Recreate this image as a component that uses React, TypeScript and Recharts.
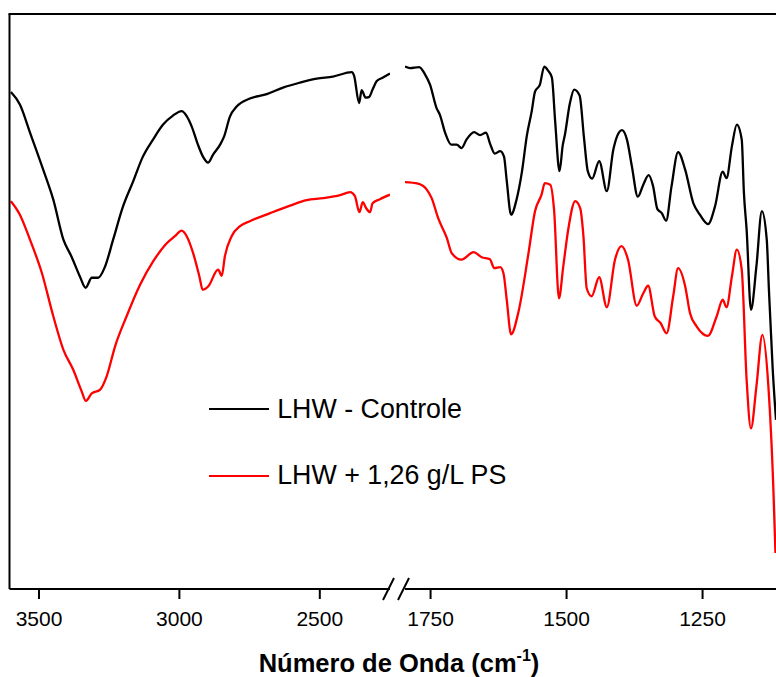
import React from 'react';
import { LineChart, Line, XAxis, YAxis, Legend } from 'recharts';

// FTIR spectra, broken wavenumber axis (3600-2250 | 1800-1115 cm-1)
// transmittance in arbitrary units (no y scale shown on the figure)

const ctrlLeftWn = [3600, 3568, 3532, 3485, 3449, 3413, 3384, 3354, 3334, 3312, 3289, 3265, 3236, 3201, 3165, 3130, 3094, 3058, 3023, 2992, 2974, 2956, 2934, 2916, 2898, 2880, 2855, 2841, 2820, 2796, 2749, 2689, 2631, 2570, 2511, 2453, 2386, 2378, 2360, 2351, 2337, 2325, 2312, 2297, 2275, 2250];
const ctrlLeftT = [99.3, 96.8, 91.2, 83.8, 77.8, 69.8, 66.4, 62.4, 60.2, 62.2, 62.2, 64.4, 69.8, 76.4, 81.4, 86.4, 89.8, 92.8, 94.6, 95.5, 94.5, 92.4, 88.8, 86.4, 85.2, 86.8, 88.8, 90.4, 94.4, 96.4, 98.0, 98.9, 100.2, 101.2, 102.0, 102.4, 103.3, 102.6, 97.1, 99.7, 98.2, 98.3, 99.8, 101.5, 102.2, 103.0];

const psLeftWn = [3600, 3568, 3532, 3490, 3449, 3413, 3378, 3348, 3333, 3312, 3283, 3259, 3229, 3188, 3140, 3093, 3045, 3016, 2992, 2974, 2951, 2929, 2917, 2897, 2862, 2849, 2838, 2814, 2784, 2749, 2677, 2606, 2547, 2488, 2428, 2392, 2375, 2359, 2347, 2335, 2321, 2312, 2286, 2250];
const psLeftT = [77.5, 74.8, 69.8, 63.2, 54.5, 47.8, 43.8, 39.5, 37.6, 39.1, 39.8, 42.5, 48.5, 54.5, 60.8, 65.5, 69.1, 70.5, 71.6, 70.5, 67.1, 62.5, 59.8, 60.5, 63.8, 62.6, 66.5, 70.5, 72.5, 73.5, 75.1, 76.6, 77.7, 78.1, 78.7, 79.3, 78.5, 75.3, 77.3, 76.1, 75.3, 77.1, 77.9, 78.8];

const ctrlRightWn = [1797, 1788, 1771, 1760, 1751, 1739, 1733, 1723, 1712, 1702, 1693, 1684, 1670, 1659, 1648, 1641, 1632, 1622, 1615, 1610, 1602, 1592, 1582, 1573, 1564, 1558, 1549, 1541, 1534, 1527, 1521, 1513, 1507, 1503, 1494, 1486, 1476, 1468, 1461, 1453, 1440, 1426, 1414, 1407, 1398, 1389, 1380, 1369, 1359, 1349, 1341, 1333, 1325, 1317, 1307, 1295, 1282, 1267, 1255, 1240, 1227, 1213, 1206, 1196, 1187, 1178, 1174, 1169, 1161, 1151, 1141, 1132, 1128, 1121, 1115];
const ctrlRightT = [104.4, 104.1, 104.3, 102.8, 100.8, 96.1, 94.8, 91.1, 88.8, 88.8, 88.1, 89.8, 91.3, 90.7, 91.2, 89.1, 87.0, 87.5, 86.4, 81.6, 74.8, 77.8, 83.4, 90.6, 95.5, 99.4, 100.8, 104.4, 103.6, 102.2, 93.5, 83.5, 88.7, 90.8, 97.0, 99.8, 98.6, 90.2, 83.5, 82.0, 85.5, 79.5, 87.8, 90.5, 91.7, 89.8, 84.5, 78.4, 80.8, 82.7, 80.5, 75.9, 75.1, 73.6, 80.5, 87.3, 83.8, 77.1, 74.8, 72.9, 76.5, 83.4, 82.1, 88.5, 92.8, 89.8, 79.2, 71.8, 55.8, 64.5, 75.5, 69.8, 59.8, 43.8, 33.8];

const psRightWn = [1797, 1773, 1757, 1748, 1736, 1720, 1711, 1693, 1671, 1656, 1641, 1633, 1622, 1616, 1610, 1602, 1589, 1570, 1558, 1546, 1540, 1530, 1523, 1514, 1506, 1497, 1484, 1475, 1469, 1463, 1454, 1440, 1426, 1411, 1399, 1387, 1371, 1359, 1350, 1338, 1327, 1316, 1304, 1295, 1282, 1273, 1261, 1240, 1224, 1213, 1206, 1196, 1187, 1178, 1169, 1161, 1151, 1140, 1129, 1120, 1116];
const psRightT = [81.3, 81.0, 79.8, 78.1, 74.1, 70.1, 67.1, 65.8, 67.3, 66.3, 65.9, 64.1, 64.3, 63.1, 57.8, 50.9, 55.1, 67.1, 75.5, 78.8, 81.1, 80.8, 75.8, 58.1, 64.5, 71.8, 77.5, 76.1, 70.5, 60.1, 58.5, 62.3, 56.3, 65.8, 68.5, 65.8, 56.6, 59.1, 60.6, 54.5, 53.1, 51.1, 58.5, 64.1, 60.5, 55.1, 52.5, 50.6, 54.5, 57.8, 56.3, 62.5, 67.8, 63.8, 41.8, 32.1, 40.5, 50.8, 40.5, 20.5, 7.2];

const leftTicks = [3500, 3000, 2500];
const rightTicks = [1750, 1500, 1250];

const seriesNames = ['LHW - Controle', 'LHW + 1,26 g/L PS'];

const zip = (wn: number[], t: number[]) => wn.map((w, i) => ({ wn: w, t: t[i] }));

const ctrlLeft = zip(ctrlLeftWn, ctrlLeftT);
const psLeft = zip(psLeftWn, psLeftT);
const ctrlRight = zip(ctrlRightWn, ctrlRightT);
const psRight = zip(psRightWn, psRightT);

const FONT = '"Liberation Sans", Arial, Helvetica, sans-serif';
const Y_DOMAIN: [number, number] = [0, 114.9];
const LINE_W = 2.3;
const axisStyle = { stroke: '#000', strokeWidth: 2 };
const tickStyle = { fill: '#000', fontSize: 21, fontFamily: FONT };

const renderLegend = (props: any) => {
    // keep the order of the series, not alphabetical
    const items = [...(props.payload || [])].sort(
        (a: any, b: any) => seriesNames.indexOf(a.value) - seriesNames.indexOf(b.value)
    );
    return (
        <div style={{ fontFamily: FONT }}>
            {items.map((entry: any) => (
                <div key={entry.value} style={{ display: 'flex', alignItems: 'center', height: 40, marginBottom: 26.7 }}>
                    <svg width={60} height={4}>
                        <line x1={0} y1={2} x2={60} y2={2} stroke={entry.color} strokeWidth={2} />
                    </svg>
                    <span style={{ marginLeft: 8.2, fontSize: 26.8, color: '#000', whiteSpace: 'nowrap' }}>{entry.value}</span>
                </div>
            ))}
        </div>
    );
};

export default function App() {
    return (
        <div style={{ position: 'relative', width: 776, height: 677, background: '#fff', overflow: 'hidden' }}>
            <style>{`body { margin: 0; }`}</style>

            <div style={{ position: 'absolute', left: 0, top: 0 }}>
                <LineChart width={390} height={677} margin={{ top: 14, right: 0, bottom: 58, left: 8.5 }}>
                    <XAxis
                        type="number"
                        dataKey="wn"
                        domain={[2250, 3605]}
                        reversed
                        allowDataOverflow
                        ticks={leftTicks}
                        tickSize={10}
                        tickMargin={12}
                        height={30}
                        axisLine={axisStyle}
                        tickLine={axisStyle}
                        tick={tickStyle}
                    />
                    <YAxis type="number" domain={Y_DOMAIN} allowDataOverflow width={1} tick={false} tickLine={false} axisLine={axisStyle} />
                    <Legend
                        layout="vertical"
                        align="center"
                        verticalAlign="middle"
                        content={renderLegend}
                        wrapperStyle={{ left: 209, top: 389, width: 330, height: 'auto' }}
                    />
                    <Line data={ctrlLeft} dataKey="t" name={seriesNames[0]} type="monotone" stroke="#000" strokeWidth={LINE_W} dot={false} isAnimationActive={false} />
                    <Line data={psLeft} dataKey="t" name={seriesNames[1]} type="monotone" stroke="#ff0000" strokeWidth={LINE_W} dot={false} isAnimationActive={false} />
                </LineChart>
            </div>

            <div style={{ position: 'absolute', left: 405, top: 0 }}>
                <LineChart width={371} height={677} margin={{ top: 14, right: 0, bottom: 58, left: 0 }}>
                    <XAxis
                        type="number"
                        dataKey="wn"
                        domain={[1115, 1797]}
                        reversed
                        allowDataOverflow
                        ticks={rightTicks}
                        tickSize={10}
                        tickMargin={12}
                        height={30}
                        axisLine={axisStyle}
                        tickLine={axisStyle}
                        tick={tickStyle}
                    />
                    <YAxis type="number" domain={Y_DOMAIN} allowDataOverflow hide />
                    <Line data={ctrlRight} dataKey="t" name={seriesNames[0]} legendType="none" type="monotone" stroke="#000" strokeWidth={LINE_W} dot={false} isAnimationActive={false} />
                    <Line data={psRight} dataKey="t" name={seriesNames[1]} legendType="none" type="monotone" stroke="#ff0000" strokeWidth={LINE_W} dot={false} isAnimationActive={false} />
                </LineChart>
            </div>

            {/* frame top, axis break marks and axis title */}
            <svg width={776} height={677} style={{ position: 'absolute', left: 0, top: 0, pointerEvents: 'none' }}>
                <line x1={8.5} y1={14} x2={776} y2={14} stroke="#000" strokeWidth={2} />
                <line x1={383} y1={600} x2={394} y2={578} stroke="#000" strokeWidth={2} />
                <line x1={398} y1={600} x2={409} y2={578} stroke="#000" strokeWidth={2} />
                <text x={399} y={672} textAnchor="middle" fontFamily={FONT} fontWeight="bold" fontSize={25.5} fill="#000">
                    Número de Onda (cm<tspan fontSize={16} dy={-11}>-1</tspan><tspan dy={11}>)</tspan>
                </text>
            </svg>
        </div>
    );
}
